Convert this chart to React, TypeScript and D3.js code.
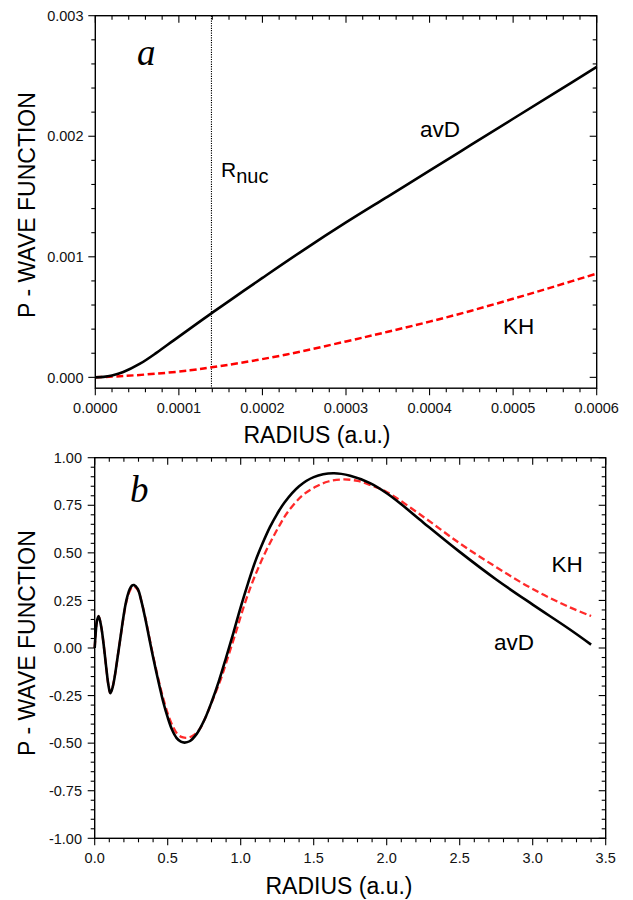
import React from "react";
import * as d3 from "d3";

// ---------- Panel a: near-nucleus region ----------
const radiusAvdA = [0, 0.00001, 0.00002, 0.0000335, 0.0000535, 0.0000735, 0.0000934, 0.0001133, 0.0001393, 0.0001612, 0.000177, 0.0002, 0.00025, 0.0003, 0.00035, 0.0004, 0.00045, 0.0005, 0.00055, 0.0006];
const avdA = [0, 0.000004, 0.000016, 0.000044, 0.000113, 0.000205, 0.000305, 0.000404, 0.000533, 0.000638, 0.000715, 0.000825, 0.00106, 0.001285, 0.0015, 0.001715, 0.00193, 0.002145, 0.00236, 0.002575];
const radiusKhA = [0, 0.0000335, 0.0000735, 0.0001133, 0.0001393, 0.000173, 0.000229, 0.0003, 0.00035, 0.0004, 0.00045, 0.0005, 0.00055, 0.0006];
const khA = [0, 0.000011, 0.000031, 0.000058, 0.000083, 0.000119, 0.00019, 0.000298, 0.000378, 0.000462, 0.000553, 0.000652, 0.000755, 0.000861];
const rNuc = 0.000139;

const xTicksA = ["0.0000", "0.0001", "0.0002", "0.0003", "0.0004", "0.0005", "0.0006"];
const yTicksA = ["0.000", "0.001", "0.002", "0.003"];

// ---------- Panel b: full radial range ----------
const radiusAvdB = [0, 0.008, 0.015, 0.027, 0.045, 0.064, 0.08, 0.095, 0.107, 0.12, 0.135, 0.15, 0.165, 0.18, 0.195, 0.21, 0.225, 0.24, 0.255, 0.269, 0.295, 0.32, 0.345, 0.37, 0.395, 0.42, 0.445, 0.47, 0.5, 0.53, 0.56, 0.59, 0.616, 0.65, 0.7, 0.75, 0.8, 0.85, 0.9, 0.95, 1.0, 1.05, 1.1, 1.15, 1.2, 1.25, 1.3, 1.4, 1.5, 1.634, 1.75, 1.886, 2.0, 2.1, 2.25, 2.5, 2.75, 3.0, 3.25, 3.4];
const avdB = [0, 0.09, 0.14, 0.168, 0.11, 0.0, -0.11, -0.2, -0.238, -0.215, -0.16, -0.085, -0.005, 0.075, 0.155, 0.225, 0.275, 0.31, 0.328, 0.331, 0.31, 0.245, 0.16, 0.065, -0.03, -0.12, -0.205, -0.285, -0.365, -0.43, -0.472, -0.492, -0.497, -0.49, -0.45, -0.38, -0.285, -0.175, -0.05, 0.08, 0.215, 0.34, 0.455, 0.55, 0.635, 0.705, 0.765, 0.85, 0.898, 0.918, 0.905, 0.866, 0.813, 0.755, 0.66, 0.505, 0.36, 0.228, 0.1, 0.018];
const radiusKhB = [0, 0.008, 0.015, 0.027, 0.045, 0.064, 0.08, 0.095, 0.107, 0.12, 0.135, 0.15, 0.165, 0.18, 0.195, 0.21, 0.225, 0.24, 0.256, 0.272, 0.297, 0.322, 0.347, 0.372, 0.397, 0.423, 0.449, 0.475, 0.505, 0.537, 0.57, 0.605, 0.639, 0.675, 0.72, 0.77, 0.82, 0.87, 0.92, 0.97, 1.02, 1.07, 1.12, 1.17, 1.22, 1.27, 1.32, 1.42, 1.52, 1.6, 1.7, 1.8, 1.886, 2.0, 2.25, 2.5, 2.75, 3.0, 3.25, 3.4];
const khB = [0, 0.09, 0.14, 0.166, 0.11, 0.0, -0.11, -0.2, -0.236, -0.213, -0.16, -0.085, -0.005, 0.073, 0.15, 0.218, 0.267, 0.3, 0.318, 0.322, 0.302, 0.24, 0.158, 0.065, -0.03, -0.12, -0.205, -0.28, -0.355, -0.415, -0.455, -0.47, -0.471, -0.46, -0.425, -0.345, -0.25, -0.15, -0.03, 0.09, 0.215, 0.325, 0.42, 0.505, 0.58, 0.65, 0.712, 0.8, 0.85, 0.875, 0.886, 0.878, 0.857, 0.82, 0.69, 0.55, 0.425, 0.31, 0.215, 0.168];

const xTicksB = ["0.0", "0.5", "1.0", "1.5", "2.0", "2.5", "3.0", "3.5"];
const yTicksB = ["-1.00", "-0.75", "-0.50", "-0.25", "0.00", "0.25", "0.50", "0.75", "1.00"];

const SANS = "'Liberation Sans', Arial, Helvetica, sans-serif";
const SERIF = "'Liberation Serif', 'Times New Roman', serif";

type Box = { left: number; right: number; top: number; bottom: number };

function Frame({ box, x, y, xMajor, xMinor, yMajor, yMinor, xLabels, yLabels, labelX, labelY, xTitleX, xTitleY, yTitleY }: any) {
  const maj = 7;
  const min = 4;
  const els: any[] = [];
  xMinor.forEach((v: number, i: number) => {
    const px = x(v);
    els.push(<line key={"xb" + i} x1={px} x2={px} y1={box.bottom} y2={box.bottom + min} />);
    els.push(<line key={"xt" + i} x1={px} x2={px} y1={box.top} y2={box.top + min} />);
  });
  xMajor.forEach((v: number, i: number) => {
    const px = x(v);
    els.push(<line key={"XB" + i} x1={px} x2={px} y1={box.bottom} y2={box.bottom + maj} />);
    els.push(<line key={"XT" + i} x1={px} x2={px} y1={box.top} y2={box.top + maj} />);
  });
  yMinor.forEach((v: number, i: number) => {
    const py = y(v);
    els.push(<line key={"yl" + i} x1={box.left - min} x2={box.left} y1={py} y2={py} />);
    els.push(<line key={"yr" + i} x1={box.right - min} x2={box.right} y1={py} y2={py} />);
  });
  yMajor.forEach((v: number, i: number) => {
    const py = y(v);
    els.push(<line key={"YL" + i} x1={box.left - maj} x2={box.left} y1={py} y2={py} />);
    els.push(<line key={"YR" + i} x1={box.right - maj} x2={box.right} y1={py} y2={py} />);
  });
  return (
    <g>
      <g stroke="#000" strokeWidth={1.1}>{els}</g>
      <rect x={box.left} y={box.top} width={box.right - box.left} height={box.bottom - box.top} fill="none" stroke="#000" strokeWidth={1.4} />
      <g fontFamily={SANS} fontSize={14.5} fill="#111">
        {xMajor.map((v: number, i: number) => (
          <text key={"xl" + i} x={x(v)} y={labelX} textAnchor="middle">{xLabels[i]}</text>
        ))}
        {yMajor.map((v: number, i: number) => (
          <text key={"yl" + i} x={labelY} y={y(v)} dy="0.36em" textAnchor="end">{yLabels[i]}</text>
        ))}
      </g>
      <g fontFamily={SANS} fontSize={23} fill="#000">
        <text x={xTitleX} y={xTitleY} textAnchor="middle">RADIUS (a.u.)</text>
        <text transform={`translate(35,${yTitleY}) rotate(-90)`} textAnchor="middle">P - WAVE FUNCTION</text>
      </g>
    </g>
  );
}

function PanelA() {
  const box: Box = { left: 95.3, right: 596.7, top: 15.7, bottom: 388.2 };
  const x = d3.scaleLinear().domain([0, 0.0006]).range([box.left, box.right]);
  const y = d3.scaleLinear().domain([-0.00009, 0.003]).range([box.bottom, box.top]);
  const xMajor = xTicksA.map(Number);
  const yMajor = yTicksA.map(Number);
  const xMinor = d3.range(0, 31).map((i) => i * 0.00002).filter((_, i) => i % 5 !== 0);
  const yMinor = d3.range(0, 16).map((i) => i * 0.0002).filter((_, i) => i % 5 !== 0);
  const line = d3.line<[number, number]>().x((d) => x(d[0])).y((d) => y(d[1])).curve(d3.curveCatmullRom.alpha(0.5));
  const avd = line(radiusAvdA.map((r, i) => [r, avdA[i]]) as [number, number][]) || "";
  const kh = line(radiusKhA.map((r, i) => [r, khA[i]]) as [number, number][]) || "";
  return (
    <g>
      <line x1={x(rNuc)} x2={x(rNuc)} y1={box.top} y2={box.bottom} stroke="#000" strokeWidth={1.1} strokeDasharray="1.2,1.2" />
      <path d={kh} fill="none" stroke="#ff0000" strokeWidth={2.5} strokeDasharray="7,3.5" />
      <path d={avd} fill="none" stroke="#000" strokeWidth={2.6} />
      <Frame box={box} x={x} y={y} xMajor={xMajor} xMinor={xMinor} yMajor={yMajor} yMinor={yMinor}
        xLabels={xTicksA} yLabels={yTicksA} labelX={413.3} labelY={83.5} xTitleX={317} xTitleY={443} yTitleY={205} />
      <text x={137} y={64.5} fontFamily={SERIF} fontStyle="italic" fontSize={37}>a</text>
      <text x={221} y={177} fontFamily={SANS} fontSize={21}>R<tspan dy={6} fontSize={20}>nuc</tspan></text>
      <text x={420} y={137} fontFamily={SANS} fontSize={22.5}>avD</text>
      <text x={503} y={334} fontFamily={SANS} fontSize={22.5}>KH</text>
    </g>
  );
}

function PanelB() {
  const box: Box = { left: 94.7, right: 605.7, top: 457.7, bottom: 838.3 };
  const x = d3.scaleLinear().domain([0, 3.5]).range([box.left, box.right]);
  const y = d3.scaleLinear().domain([-1, 1]).range([box.bottom, box.top]);
  const xMajor = xTicksB.map(Number);
  const yMajor = yTicksB.map(Number);
  const xMinor = d3.range(0, 36).map((i) => i * 0.1).filter((_, i) => i % 5 !== 0);
  const yMinor = d3.range(0, 41).map((i) => -1 + i * 0.05).filter((_, i) => i % 5 !== 0);
  const line = d3.line<[number, number]>().x((d) => x(d[0])).y((d) => y(d[1])).curve(d3.curveCatmullRom.alpha(0.5));
  const avd = line(radiusAvdB.map((r, i) => [r, avdB[i]]) as [number, number][]) || "";
  const kh = line(radiusKhB.map((r, i) => [r, khB[i]]) as [number, number][]) || "";
  return (
    <g>
      <path d={kh} fill="none" stroke="#ff2a2a" strokeWidth={2.3} strokeDasharray="7,3.5" />
      <path d={avd} fill="none" stroke="#000" strokeWidth={2.6} />
      <Frame box={box} x={x} y={y} xMajor={xMajor} xMinor={xMinor} yMajor={yMajor} yMinor={yMinor}
        xLabels={xTicksB} yLabels={yTicksB} labelX={863.3} labelY={82} xTitleX={339} xTitleY={894} yTitleY={643} />
      <text x={130} y={501.5} fontFamily={SERIF} fontStyle="italic" fontSize={37}>b</text>
      <text x={551.5} y={571.7} fontFamily={SANS} fontSize={22.5}>KH</text>
      <text x={494} y={650} fontFamily={SANS} fontSize={22.5}>avD</text>
    </g>
  );
}

export default function App() {
  return (
    <svg width={633} height={900} viewBox="0 0 633 900" style={{ position: "absolute", left: 0, top: 0, background: "#fff" }}>
      <rect x={0} y={0} width={633} height={900} fill="#fff" />
      <PanelA />
      <PanelB />
    </svg>
  );
}
